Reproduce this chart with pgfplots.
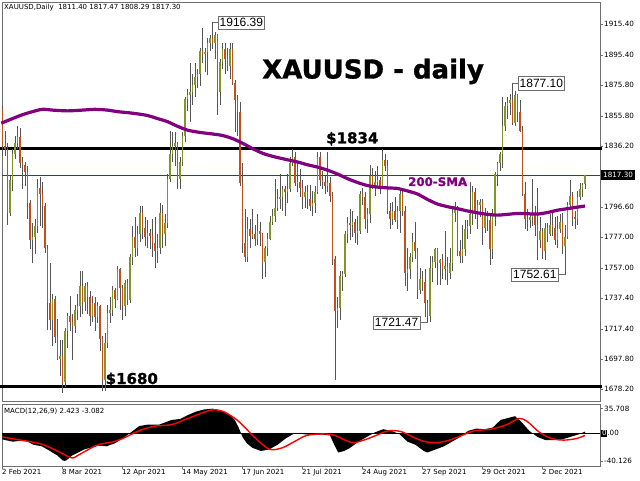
\documentclass[border=0pt]{standalone}
\usepackage{pgfplots}
\pgfplotsset{compat=1.18}
\usepackage{pgfplotstable}
\usepackage{fontspec}
\setmainfont{DejaVu Sans}
\newfontfamily\arialfont{Liberation Sans}
\newfontfamily\heavyfont{DejaVu Sans}[BoldFeatures={FakeBold=1.2}]
\definecolor{upc}{RGB}{128,150,38}
\definecolor{dnc}{RGB}{196,78,28}
\definecolor{wickc}{RGB}{85,85,85}
\definecolor{smac}{RGB}{128,0,128}
\definecolor{bluel}{RGB}{45,45,215}
\definecolor{framec}{RGB}{110,110,110}

\pgfplotstableread{
i O H L C
0 1860 1863 1830 1836
1 1836 1846 1830 1834
2 1834 1838 1785 1793
3 1793 1817 1791 1814
4 1814 1834 1807 1831
5 1831 1843 1828 1838
6 1838 1849 1834 1842
7 1842 1848 1822 1825
8 1825 1829 1808 1824
9 1824 1826 1810 1819
10 1819 1823 1789 1799
11 1799 1801 1769 1775
12 1775 1786 1760 1777
13 1777 1789 1766 1784
14 1784 1815 1780 1809
15 1809 1816 1784 1805
16 1805 1813 1783 1797
17 1797 1799 1767 1770
18 1770 1772 1717 1734
19 1734 1760 1717 1723
20 1723 1740 1706 1737
21 1737 1739 1708 1712
22 1712 1724 1697 1698
23 1698 1710 1687 1700
24 1700 1710 1676 1683
25 1683 1718 1680 1716
26 1716 1728 1705 1726
27 1726 1739 1716 1722
28 1722 1727 1697 1719
29 1719 1733 1715 1730
30 1730 1740 1723 1732
31 1732 1755 1725 1745
32 1745 1755 1727 1735
33 1735 1747 1729 1745
34 1745 1748 1727 1738
35 1738 1742 1719 1726
36 1726 1739 1722 1734
37 1734 1738 1716 1725
38 1725 1735 1721 1732
39 1732 1733 1703 1711
40 1711 1713 1677 1684
41 1684 1715 1677 1708
42 1708 1733 1705 1728
43 1728 1738 1721 1730
44 1730 1745 1726 1743
45 1743 1744 1731 1737
46 1737 1758 1736 1756
47 1756 1757 1730 1744
48 1744 1746 1723 1732
49 1732 1749 1726 1747
50 1747 1750 1733 1736
51 1736 1766 1734 1764
52 1764 1784 1759 1777
53 1777 1790 1764 1770
54 1770 1784 1765 1779
55 1779 1797 1774 1793
56 1793 1797 1776 1783
57 1783 1790 1771 1777
58 1777 1788 1770 1780
59 1780 1782 1769 1778
60 1778 1789 1764 1773
61 1773 1790 1757 1768
62 1768 1779 1760 1770
63 1770 1799 1766 1793
64 1793 1798 1770 1779
65 1779 1792 1771 1786
66 1786 1818 1783 1815
67 1815 1846 1813 1831
68 1831 1845 1826 1836
69 1836 1845 1823 1838
70 1838 1839 1808 1815
71 1815 1829 1808 1826
72 1826 1845 1823 1843
73 1843 1868 1839 1867
74 1867 1873 1859 1869
75 1869 1890 1852 1871
76 1871 1883 1863 1876
77 1876 1890 1868 1881
78 1881 1886 1874 1883
79 1883 1900 1875 1898
80 1898 1913 1890 1896
81 1896 1900 1884 1897
82 1897 1906 1882 1903
83 1903 1908 1898 1906
84 1906 1916.39 1899 1903
85 1903 1910 1893 1908
86 1908 1909 1856 1871
87 1871 1893 1863 1891
88 1891 1903 1886 1899
89 1899 1903 1883 1893
90 1893 1900 1885 1888
91 1888 1903 1880 1899
92 1899 1903 1876 1877
93 1877 1879 1845 1866
94 1866 1869 1843 1858
95 1858 1865 1810 1812
96 1812 1825 1767 1773
97 1773 1795 1761 1764
98 1764 1790 1761 1782
99 1782 1789 1770 1778
100 1778 1795 1776 1779
101 1779 1785 1771 1776
102 1776 1792 1772 1781
103 1781 1787 1771 1779
104 1779 1780 1750 1761
105 1761 1771 1751 1770
106 1770 1780 1765 1776
107 1776 1791 1775 1787
108 1787 1795 1785 1791
109 1791 1815 1787 1796
110 1796 1808 1794 1802
111 1802 1818 1795 1803
112 1803 1810 1794 1808
113 1808 1810 1791 1806
114 1806 1818 1799 1808
115 1808 1829 1806 1825
116 1825 1834 1823 1829
117 1829 1832 1810 1812
118 1812 1825 1806 1813
119 1813 1821 1803 1809
120 1809 1814 1795 1803
121 1803 1810 1796 1806
122 1806 1811 1795 1802
123 1802 1811 1794 1797
124 1797 1807 1791 1799
125 1799 1810 1793 1806
126 1806 1832 1805 1829
127 1829 1832 1810 1814
128 1814 1820 1808 1813
129 1813 1817 1805 1810
130 1810 1832 1806 1812
131 1812 1816 1800 1804
132 1804 1806 1759 1763
133 1763 1765 1684 1729
134 1729 1738 1718 1731
135 1731 1755 1723 1752
136 1752 1755 1742 1753
137 1753 1781 1751 1779
138 1779 1790 1773 1786
139 1786 1795 1775 1785
140 1785 1794 1777 1787
141 1787 1789 1773 1780
142 1780 1791 1772 1781
143 1781 1807 1779 1805
144 1805 1809 1798 1803
145 1803 1806 1782 1789
146 1789 1796 1780 1792
147 1792 1824 1786 1817
148 1817 1822 1808 1810
149 1810 1820 1804 1813
150 1813 1823 1810 1814
151 1814 1816 1805 1810
152 1810 1834 1809 1827
153 1827 1831 1820 1823
154 1823 1827 1792 1794
155 1794 1799 1782 1789
156 1789 1800 1785 1794
157 1794 1803 1787 1788
158 1788 1797 1782 1794
159 1794 1809 1780 1805
160 1805 1809 1791 1794
161 1794 1797 1745 1754
162 1754 1770 1742 1756
163 1756 1767 1750 1764
164 1764 1780 1761 1774
165 1774 1787 1763 1768
166 1768 1770 1737 1743
167 1743 1757 1740 1750
168 1750 1755 1742 1748
169 1748 1756 1725 1734
170 1734 1736 1721.47 1726
171 1726 1765 1722 1757
172 1757 1765 1748 1761
173 1761 1770 1757 1769
174 1769 1770 1746 1760
175 1760 1763 1746 1762
176 1762 1766 1750 1756
177 1756 1781 1749 1758
178 1758 1764 1746 1754
179 1754 1770 1750 1760
180 1760 1796 1755 1793
181 1793 1800 1787 1796
182 1796 1797 1765 1768
183 1768 1775 1760 1765
184 1765 1785 1760 1769
185 1769 1788 1765 1782
186 1782 1788 1776 1784
187 1784 1813 1779 1792
188 1792 1810 1785 1806
189 1806 1809 1789 1793
190 1793 1801 1782 1798
191 1798 1802 1790 1800
192 1800 1802 1772 1783
193 1783 1796 1780 1793
194 1793 1794 1781 1788
195 1788 1793 1759 1769
196 1769 1795 1763 1791
197 1791 1819 1784 1818
198 1818 1826 1810 1825
199 1825 1832 1820 1831
200 1831 1868 1822 1849
201 1849 1865 1846 1862
202 1862 1868 1854 1864
203 1864 1870 1856 1866
204 1866 1877.10 1850 1851
205 1851 1872 1849 1869
206 1869 1870 1852 1858
207 1858 1866 1845 1846
208 1846 1849 1804 1805
209 1805 1813 1782 1789
210 1789 1795 1781 1788
211 1788 1793 1783 1790
212 1790 1815 1784 1793
213 1793 1797 1778 1785
214 1785 1809 1762 1775
215 1775 1790 1770 1781
216 1781 1783 1763 1768
217 1768 1786 1762 1783
218 1783 1786 1774 1779
219 1779 1792 1778 1785
220 1785 1793 1778 1783
221 1783 1790 1772 1775
222 1775 1791 1770 1782
223 1782 1792 1780 1787
224 1787 1793 1766 1771
225 1771 1785 1752.61 1777
226 1777 1800 1776 1798
227 1798 1814 1795 1804
228 1804 1806 1784 1790
229 1790 1794 1782 1789
230 1789 1807 1785 1803
231 1803 1812 1801 1808
232 1808 1812 1803 1811
233 1811.40 1817.47 1808.29 1817.30
}\candles

\begin{document}
\begin{tikzpicture}[x=1pt,y=1pt]
\path[use as bounding box] (0,0) rectangle (640,480);
% ---------------- main price panel
\begin{axis}[
  at={(2pt,79pt)}, anchor=south west, scale only axis,
  width=598pt, height=399pt,
  xmin=-0.2, xmax=239, ymin=1670.6, ymax=1929.7,
  axis line style={framec, line width=0.8pt},
  xtick=\empty,
  ytick={1678.2,1697.8,1717.4,1737.4,1757,1777,1796.6,1836.2,1855.8,1875.8,1895.4,1915.4},
  yticklabels={1678.20,1697.80,1717.40,1737.40,1757.00,1777.00,1796.60,1836.20,1855.80,1875.80,1895.40,1915.40},
  ytick pos=right, yticklabel pos=right,
  tick align=outside, major tick length=3pt,
  tick style={framec, line width=0.6pt},
  yticklabel style={font=\fontsize{7.2}{8}\selectfont, anchor=west, inner sep=1pt},
  clip=false,
]
% horizontal levels
\addplot[bluel, line width=0.8pt] coordinates {(-0.2,1817.3) (239,1817.3)};
\addplot[black, line width=3pt] coordinates {(-1,1834.7) (239.6,1834.7)};
\addplot[black, line width=3pt] coordinates {(-1,1679.9) (239.6,1679.9)};
% wicks
\addplot[draw=none, mark=none, error bars/.cd, y dir=plus, y explicit, error mark=none,
  error bar style={line width=0.8pt, draw=wickc, solid}]
  table[x=i, y=L, y error plus expr=\thisrow{H}-\thisrow{L}] {\candles};
% up bodies
\addplot[draw=none, mark=none, restrict expr to domain={\thisrow{C}-\thisrow{O}}{0:1000},
  error bars/.cd, y dir=plus, y explicit, error mark=none,
  error bar style={line width=1.8pt, draw=upc, solid}]
  table[x=i, y=O, y error plus expr=\thisrow{C}-\thisrow{O}] {\candles};
% down bodies
\addplot[draw=none, mark=none, restrict expr to domain={\thisrow{O}-\thisrow{C}}{0.0001:1000},
  error bars/.cd, y dir=plus, y explicit, error mark=none,
  error bar style={line width=1.8pt, draw=dnc, solid}]
  table[x=i, y=C, y error plus expr=\thisrow{O}-\thisrow{C}] {\candles};
% 200-SMA
\addplot[smac, line width=3.2pt, smooth] coordinates {
(-0.5,1851) (4,1854) (8,1856.5) (12,1858.5) (16,1860) (20,1859.5) (26,1859) (32,1859.5)
(37,1860) (42,1859.5) (46,1858.5) (52,1857.5) (58,1856) (62,1854) (66,1852) (70,1849)
(74,1846.5) (79,1845) (84,1844) (88,1843) (92,1841) (96,1838) (100,1834.5) (104,1831.5)
(108,1829.5) (113,1827.6) (118,1825.8) (122,1824) (126,1822.5) (130,1820.5) (134,1818)
(138,1815) (142,1812.5) (146,1810.5) (150,1809.5) (154,1809) (158,1808.6) (162,1807)
(166,1805) (170,1801.5) (174,1798.5) (178,1796.8) (182,1795.5) (186,1794) (190,1792.8)
(194,1791.8) (198,1791.3) (202,1791.8) (206,1792.4) (210,1792.2) (214,1792) (218,1793)
(222,1794.5) (226,1795.5) (230,1796.5) (233,1797.2)};
% price labels
\node[draw=framec, fill=white, inner xsep=1.5pt, inner ysep=2.5pt, anchor=west,
  font=\arialfont\fontsize{12}{12}\selectfont] (b1) at (axis cs:86.2,1916.39) {1916.39};
\draw[framec, line width=0.6pt] (axis cs:84,1916.39) -- (b1.west);
\node[draw=framec, fill=white, inner xsep=1.5pt, inner ysep=2.5pt, anchor=west,
  font=\arialfont\fontsize{12}{12}\selectfont] (b2) at (axis cs:206.2,1877.10) {1877.10};
\draw[framec, line width=0.6pt] (axis cs:204,1877.10) -- (b2.west);
\node[draw=framec, fill=white, inner xsep=1.5pt, inner ysep=2.5pt, anchor=east,
  font=\arialfont\fontsize{12}{12}\selectfont] (b3) at (axis cs:167,1721.47) {1721.47};
\draw[framec, line width=0.6pt] (axis cs:170,1721.47) -- (b3.east);
\node[draw=framec, fill=white, inner xsep=1.5pt, inner ysep=2.5pt, anchor=east,
  font=\arialfont\fontsize{12}{12}\selectfont] (b4) at (axis cs:222.3,1752.61) {1752.61};
\draw[framec, line width=0.6pt] (axis cs:225,1752.61) -- (b4.east);
% current price box
\node[fill=black, text=white, anchor=west, inner xsep=2.5pt, inner ysep=2.5pt,
  font=\fontsize{7.2}{8}\selectfont] at (axis cs:239.2,1817.3) {1817.30};
\end{axis}
% ---------------- MACD panel
\begin{axis}[
  at={(2pt,14pt)}, anchor=south west, scale only axis,
  width=598pt, height=62pt,
  xmin=-0.2, xmax=239, ymin=-47.5, ymax=42.5,
  axis line style={framec, line width=0.8pt},
  xtick={0,24,48,72,96,120,144,168,192,216},
  xticklabels={2 Feb 2021,8 Mar 2021,12 Apr 2021,14 May 2021,17 Jun 2021,21 Jul 2021,24 Aug 2021,27 Sep 2021,29 Oct 2021,2 Dec 2021},
  xtick pos=bottom,
  xticklabel style={font=\fontsize{7}{8}\selectfont, anchor=north west, inner sep=0pt, xshift=-0.5pt},
  ytick={-40.126,35.708}, yticklabels={-40.126,35.708},
  ytick pos=right, yticklabel pos=right,
  tick align=outside, major tick length=3pt,
  tick style={framec, line width=0.6pt},
  yticklabel style={font=\fontsize{7.2}{8}\selectfont, anchor=west, inner sep=1pt},
  clip=false,
]
\addplot[fill=black, draw=none] coordinates {
(0,-9) (4.2,-12.2) (9,-9.9) (12.4,-16.7) (15.7,-18.9) (19,-25.7) (22,-32.4) (24,-39.2)
(24.8,-40.1) (25.6,-39.2) (27.8,-32.4) (30.3,-27.9) (32.7,-23.4) (35,-21.2) (38.4,-18)
(41.6,-18.9) (45,-14.4) (48,-7.7) (51.4,1.4) (54.7,10.4) (58,12.6) (62.7,12.6) (67.7,19.4)
(71,20.7) (74,26.1) (77.4,31.5) (80.6,34.5) (84,35.7) (87.2,32.9) (90.4,28.4) (92.9,19.4)
(94.5,8.1) (96,-5.4) (97.7,-14.4) (100,-21.2) (103.4,-25.7) (106.7,-23.4) (110,-16.7)
(113.2,-7.7) (116.4,-0.9) (119.6,-0.9) (123,-2.3) (127.8,-1.8) (131,-3.2) (132.7,-16.7)
(134.3,-27.9) (136.7,-25.7) (139,-21.2) (142.4,-12.2) (145.7,-5.4) (149,1.4) (152.3,5.9)
(155.4,3.6) (158.7,-0.9) (162,-12.2) (165.2,-16.7) (168.5,-25.7) (170,-27.9) (173.3,-23.4)
(176.6,-18.9) (179.8,-12.2) (183,-5.4) (186.3,3.6) (189.6,6.8) (192.8,5.9) (196,8.1)
(199.3,19.4) (202.6,22.5) (205,24.8) (207.4,17.1) (210.7,3.6) (214,-5.4) (217.2,-9.9)
(220.5,-9.9) (223.7,-9) (227,-5.4) (230.3,-1.8) (233,2.4)} \closedcycle;
\addplot[black, line width=0.6pt] coordinates {(-0.2,0) (239,0)};
\addplot[red, line width=1.4pt, smooth] coordinates {
(0,-5.4) (7.2,-9.9) (15.3,-15.3) (21.9,-25.7) (26.8,-34.7) (28.4,-35.6) (30,-32.4)
(33.3,-25.7) (38.2,-16.7) (44.8,-11.9) (48,-7.7) (54.6,3.6) (61,10.4) (67.6,12.6)
(74.2,21.6) (80.7,30.6) (84.8,34.2) (88.9,30.6) (93.8,19.4) (97,8.1) (102,-9.9)
(106.9,-23.4) (111.8,-21.2) (116.7,-12.2) (121.6,-3.2) (128.1,-0.9) (133,-3.2)
(139.6,-13.5) (144.5,-9.9) (149.4,-3.2) (154.3,3.6) (159.2,2.7) (164.1,-5.4) (169,-12.2)
(173.9,-13.5) (178.8,-9.9) (183.7,-3.2) (188.6,3.6) (195.2,5.9) (201.7,12.6) (206.6,21.6)
(209.9,17.1) (214.8,1.4) (219.7,-7.7) (224.6,-9.9) (229.5,-7.7) (233,-3.1)};
\node[anchor=west, inner sep=0pt, font=\fontsize{7.2}{8}\selectfont] at (axis cs:239.4,0)
  {\setlength\fboxsep{0.8pt}\colorbox{black}{\textcolor{white}{0}}.00};
\end{axis}
% ---------------- texts
\node[anchor=base west, inner sep=0pt, font=\fontsize{7}{8}\selectfont] at (4,470)
  {XAUUSD,Daily\ \ 1811.40 1817.47 1808.29 1817.30};
\node[anchor=base west, inner sep=0pt, font=\fontsize{7}{8}\selectfont] at (4,66.5)
  {MACD(12,26,9) 2.423 -3.082};
\node[anchor=base west, inner sep=0pt, font=\heavyfont\bfseries\fontsize{26}{26}\selectfont] at (262,401.5)
  {XAUUSD - daily};
\node[anchor=base west, inner sep=0pt, font=\heavyfont\bfseries\fontsize{15}{15}\selectfont] at (326,336.7)
  {\$1834};
\node[anchor=base west, inner sep=0pt, font=\heavyfont\bfseries\fontsize{15}{15}\selectfont] at (105.5,96)
  {\$1680};
\node[anchor=base west, inner sep=0pt, text=smac, font=\heavyfont\bfseries\fontsize{11.8}{12}\selectfont] at (408,294)
  {200-SMA};
\end{tikzpicture}
\end{document}
